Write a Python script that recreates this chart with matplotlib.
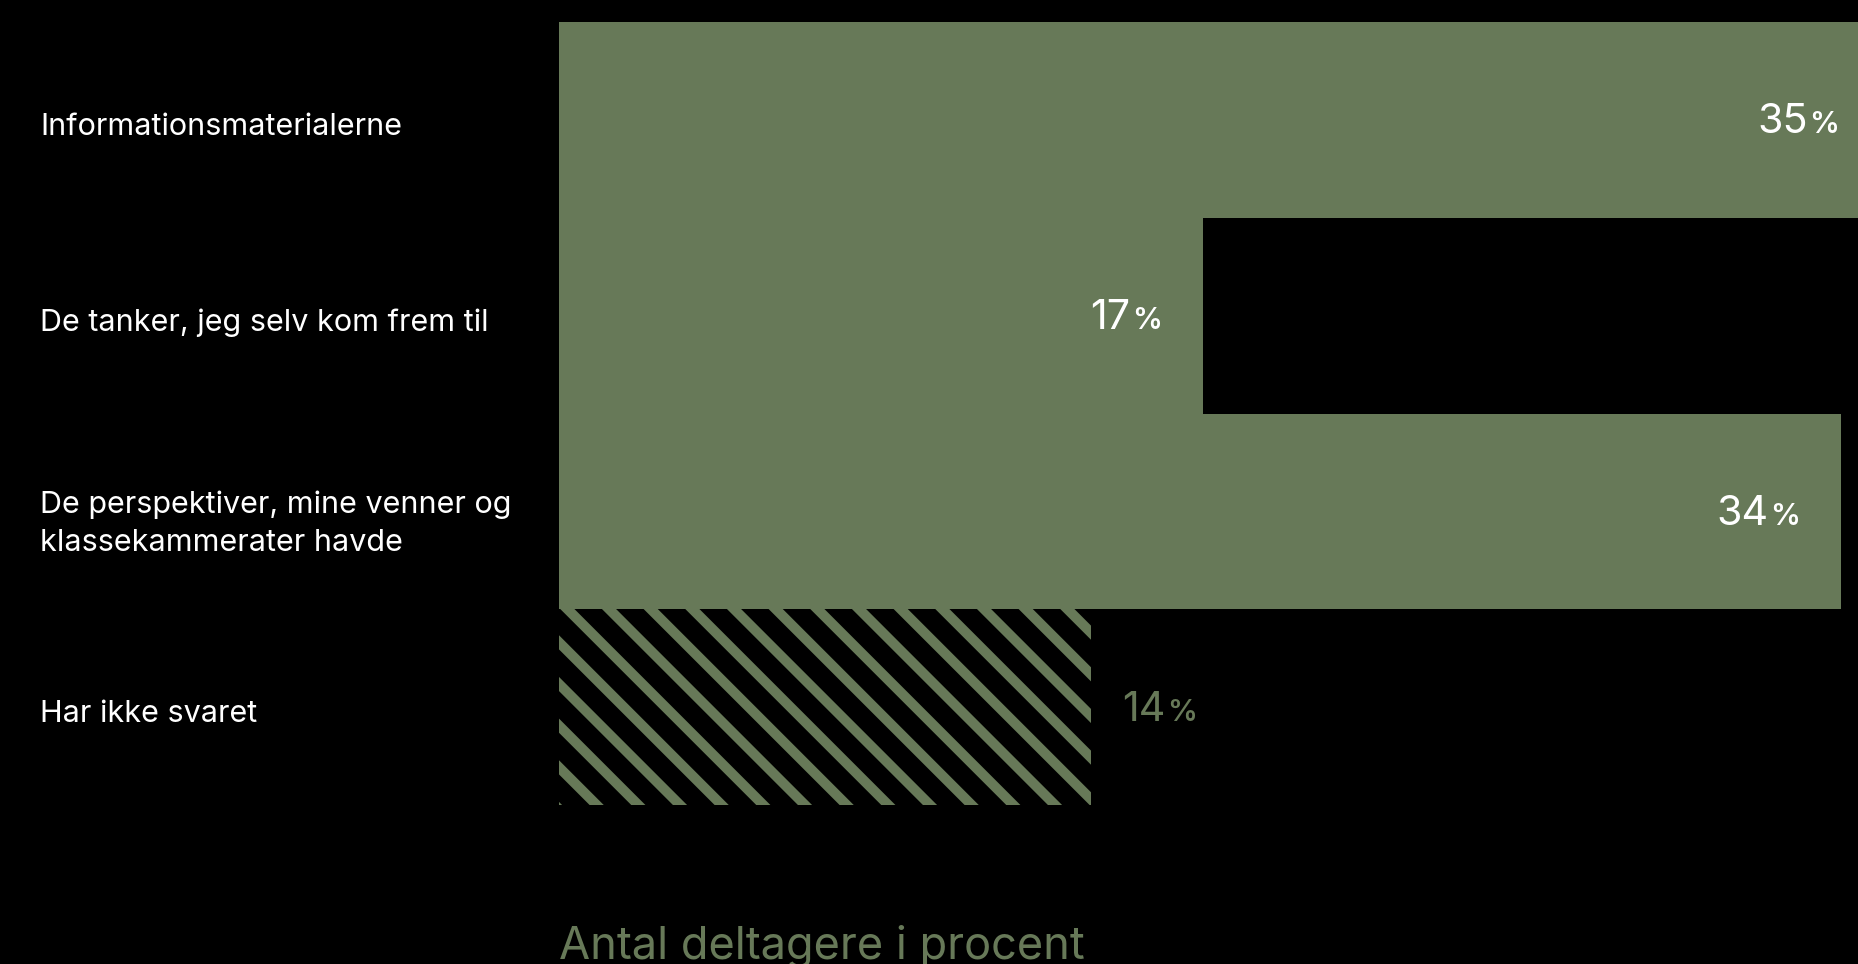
import matplotlib
matplotlib.use('Agg')
from matplotlib import pyplot
from matplotlib.transforms import ScaledTranslation

# data
categories = ['Informationsmaterialerne',
              'De tanker, jeg selv kom frem til',
              'De perspektiver, mine venner og\nklassekammerater havde',
              'Har ikke svaret']
values = [35.5, 17.3, 34.45, 14.3]
value_labels = ['35', '17', '34', '14']
hatched = [False, False, False, True]
xlabel = 'Antal deltagere i procent'

green = '#677958'
dpi = 250
pt = 72.0 / dpi  # points per pixel

pyplot.rcParams['font.family'] = ['Inter', 'DejaVu Sans']
pyplot.rcParams['hatch.color'] = green
pyplot.rcParams['hatch.linewidth'] = 10 * pt

fig = pyplot.figure(figsize=(1858 / dpi, 964 / dpi), dpi=dpi, facecolor='black')
ax = fig.add_axes([559 / 1858, 1 - 805 / 964, 1 - 559 / 1858, (805 - 22) / 964])
ax.set_facecolor('black')

for i, (v, h) in enumerate(zip(values, hatched)):
    if h:
        ax.barh(i, v, height=1.0, color='black', edgecolor=green, hatch='\\\\', linewidth=0)
    else:
        ax.barh(i, v, height=1.0, color=green, linewidth=0)

ax.set_xlim(0, 34.9)
ax.set_ylim(3.5, -0.5)
for s in ax.spines.values():
    s.set_visible(False)
ax.set_xticks([])
ax.set_yticks(range(len(categories)))
ax.set_yticklabels(categories, ha='left', color='white', fontsize=8.8, linespacing=1.45)
ax.tick_params(axis='y', length=0, pad=(559 - 40) * pt)
shift = ScaledTranslation(0, -4 / dpi, fig.dpi_scale_trans)
for lbl in ax.get_yticklabels():
    lbl.set_transform(lbl.get_transform() + shift)

# value labels, big number + small percent sign
base = -13.5 * pt
for i, (v, lab) in enumerate(zip(values, value_labels)):
    if hatched[i]:
        num = ax.annotate(lab, xy=(v, i), xytext=(31 * pt, base), textcoords='offset points',
                          ha='left', va='baseline', color=green, fontsize=11.9,
                          annotation_clip=False)
        ax.annotate('%', xy=(1, i), xycoords=(num, 'data'), xytext=(1.5 * pt, base),
                    textcoords='offset points', ha='left', va='baseline',
                    color=green, fontsize=8.6, fontweight='semibold', annotation_clip=False)
    else:
        pct = ax.annotate('%', xy=(v, i), xytext=(-41 * pt, base), textcoords='offset points',
                          ha='right', va='baseline', color='white', fontsize=8.6,
                          fontweight='semibold', annotation_clip=False)
        ax.annotate(lab, xy=(0, i), xycoords=(pct, 'data'), xytext=(-1.5 * pt, base),
                    textcoords='offset points', ha='right', va='baseline',
                    color='white', fontsize=11.9, annotation_clip=False)

# the reference crops this label at the bottom edge as well
ax.set_xlabel(xlabel, loc='left', color=green, fontsize=13.0, labelpad=34.5)

fig.savefig('out.png', dpi=dpi, facecolor='black')
